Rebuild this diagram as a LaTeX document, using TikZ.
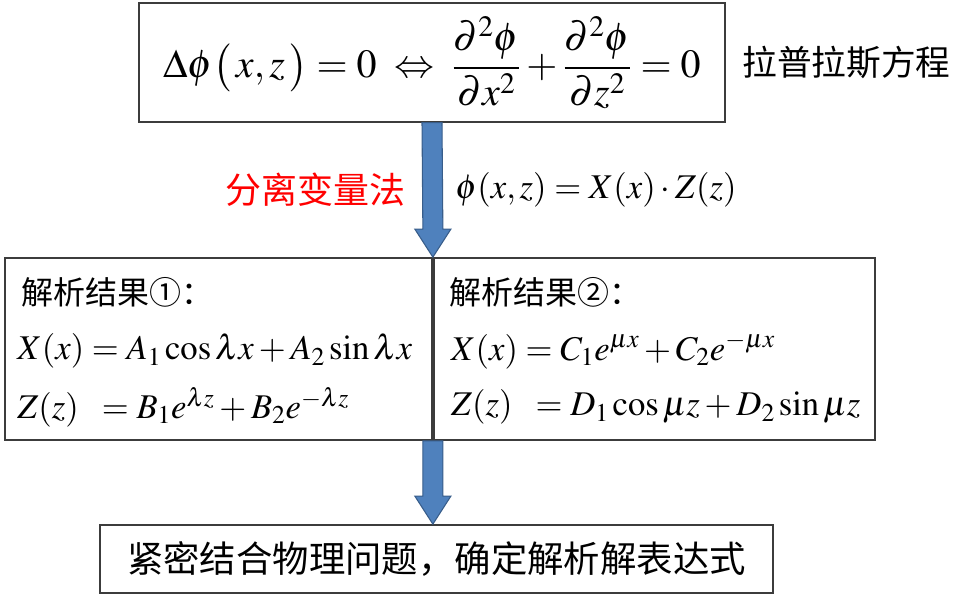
\documentclass[tikz,border=0pt]{standalone}
\usepackage{amsmath}
\usepackage{mathptmx}
\usepackage[no-math]{fontspec}
\setmainfont{Liberation Serif}
\newfontfamily\cjk{Noto Sans CJK SC}
\usepackage{tikz}
\usetikzlibrary{positioning,calc}
\definecolor{arrowblue}{RGB}{79,129,189}
\definecolor{arrowedge}{RGB}{56,93,138}
\definecolor{boxline}{RGB}{60,60,60}

\begin{document}
\begin{tikzpicture}[x=0.75pt, y=-0.75pt,
    box/.style={rectangle, draw=boxline, line width=1.3pt, inner sep=0pt},
    flow/.style={draw=arrowedge, fill=arrowblue, line width=0.8pt},
    zh/.style={inner sep=0pt, font=\cjk\fontsize{24}{28}\selectfont},
    eq/.style={inner sep=0pt, font=\fontsize{26}{30}\selectfont}
]
    \useasboundingbox (0,0) rectangle (980,605);

    % boxes
    \node[box, minimum width=440pt, minimum height=89pt, font=\fontsize{30}{34}\selectfont] (top) at (432,62.5)
        {$\displaystyle \Delta\phi\bigl(\,x,z\,\bigr)=0\;\Leftrightarrow\;\frac{\partial^2\phi}{\partial x^2}+\frac{\partial^2\phi}{\partial z^2}=0$};
    \node[box, minimum width=320.25pt, minimum height=136.5pt] (res1) at (218.5,349) {};
    \node[box, minimum width=330.75pt, minimum height=136.5pt, right=0pt of res1] (res2) {};
    \node[box, minimum width=504.75pt, minimum height=51pt, font=\cjk\fontsize{27.3}{30}\selectfont] (final) at (436.5,559)
        {紧密结合物理问题，确定解析解表达式};

    \node[zh, font=\cjk\fontsize{26}{28}\selectfont, right=12pt of top] (lap) {拉普拉斯方程};

    % arrows
    \draw[flow] ($(top.south)+(-10,0)$) -- ($(res1.north east)+(-10,-28)$) -- ($(res1.north east)+(-18,-28)$)
        -- (res1.north east) -- ($(res1.north east)+(18,-28)$) -- ($(res1.north east)+(10,-28)$)
        -- ($(top.south)+(10,0)$) -- cycle;
    \coordinate (tip2) at (res1.south east |- final.north);
    \draw[flow] ($(res1.south east)+(-10,0)$) -- ($(tip2)+(-10,-28)$) -- ($(tip2)+(-18,-28)$)
        -- (tip2) -- ($(tip2)+(18,-28)$) -- ($(tip2)+(10,-28)$)
        -- ($(res1.south east)+(10,0)$) -- cycle;

    \coordinate (mid1) at ($(top.south)!0.5!(res1.north east)$);
    \node[zh, font=\cjk\fontsize{27}{30}\selectfont, text=red, left=20pt of mid1] (sep) {分离变量法};
    \node[eq, right=17pt of mid1] (prod) {$\phi(x,z)=X(x)\cdot Z(z)$};

    % result 1
    \node[zh, anchor=west] (h1) at ($(res1.north west)+(17,35)$) {解析结果①：};
    \node[eq, anchor=west] (x1) at ($(res1.north west)+(13,94)$) {$X(x)=A_1\cos\lambda x+A_2\sin\lambda x$};
    \node[eq, anchor=west] (z1) at ($(res1.north west)+(13,150)$) {$Z(z)\;\;=B_1e^{\lambda z}+B_2e^{-\lambda z}$};

    % result 2
    \node[zh, anchor=west] (h2) at ($(res2.north west)+(16,35)$) {解析结果②：};
    \node[eq, anchor=west] (x2) at ($(res2.north west)+(18,94)$) {$X(x)=C_1e^{\mu x}+C_2e^{-\mu x}$};
    \node[eq, anchor=west] (z2) at ($(res2.north west)+(18,150)$) {$Z(z)\;\;=D_1\cos\mu z+D_2\sin\mu z$};
\end{tikzpicture}
\end{document}
